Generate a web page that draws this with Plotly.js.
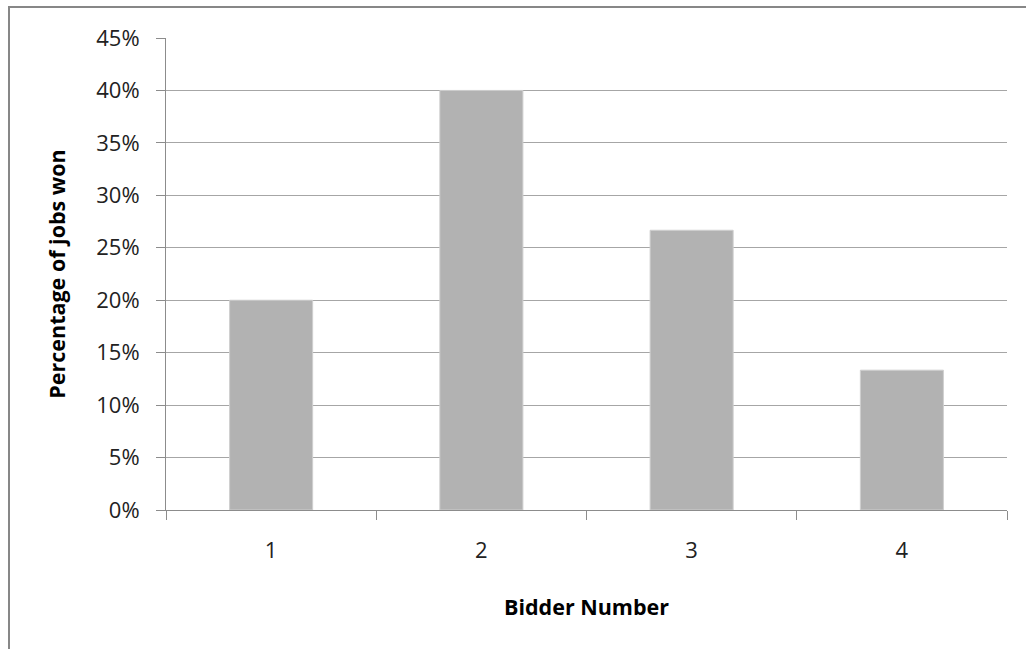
<!DOCTYPE html>
<html>
<head>
<meta charset="utf-8">
<script src="https://cdn.plot.ly/plotly-3.0.1.min.js"></script>
<style>
  html, body { margin: 0; padding: 0; background: #ffffff; }
  #wrap { position: relative; width: 1026px; height: 649px; overflow: hidden; }
  #chart { position: absolute; left: 0; top: 0; width: 1026px; height: 649px; }
  #frame {
    position: absolute; left: 8px; top: 6px; width: 1100px; height: 700px;
    border-left: 2px solid #878787; border-top: 2px solid #878787;
    pointer-events: none;
  }
</style>
</head>
<body>
<div id="wrap">
  <div id="chart"></div>
  <div id="frame"></div>
</div>
<script>
// Share of jobs won by each bidder
const bidders = ['1', '2', '3', '4'];
const shareWon = [0.20, 0.40, 0.2667, 0.1333];
const yTicks = [0, 0.05, 0.10, 0.15, 0.20, 0.25, 0.30, 0.35, 0.40, 0.45];

const tickFont = { family: 'Open Sans, DejaVu Sans, sans-serif', size: 22, color: '#222222' };
const titleFont = { family: 'Open Sans, DejaVu Sans, sans-serif', size: 21.5, color: '#000000', weight: 'bold' };

const trace = {
  type: 'bar',
  x: bidders,
  y: shareWon,
  marker: { color: '#b2b2b2', line: { color: '#cfcfcf', width: 1 } },
  hoverinfo: 'skip'
};

const layout = {
  width: 1026,
  height: 649,
  margin: { l: 166, r: 19, t: 38, b: 139 },
  paper_bgcolor: '#ffffff',
  plot_bgcolor: '#ffffff',
  showlegend: false,
  bargap: 0.605,
  xaxis: {
    type: 'category',
    tickson: 'boundaries',
    ticks: 'outside',
    ticklen: 9,
    tickwidth: 1,
    tickcolor: '#8c8c8c',
    showline: true,
    linecolor: '#8c8c8c',
    linewidth: 1,
    showgrid: false,
    tickfont: tickFont,
    ticklabelstandoff: 21,
    title: { text: 'Bidder Number', font: titleFont, standoff: 36 }
  },
  yaxis: {
    range: [0, 0.45],
    tickvals: yTicks,
    tickformat: '.0%',
    ticks: 'outside',
    ticklen: 9,
    tickwidth: 1,
    tickcolor: '#8c8c8c',
    showline: true,
    linecolor: '#8c8c8c',
    linewidth: 1,
    showgrid: true,
    gridcolor: '#a6a6a6',
    gridwidth: 1,
    zeroline: false,
    tickfont: tickFont,
    ticklabelstandoff: 12,
    title: { text: 'Percentage of jobs won', font: titleFont, standoff: 24 }
  }
};

Plotly.newPlot('chart', [trace], layout, { staticPlot: true, displayModeBar: false });
</script>
</body>
</html>
